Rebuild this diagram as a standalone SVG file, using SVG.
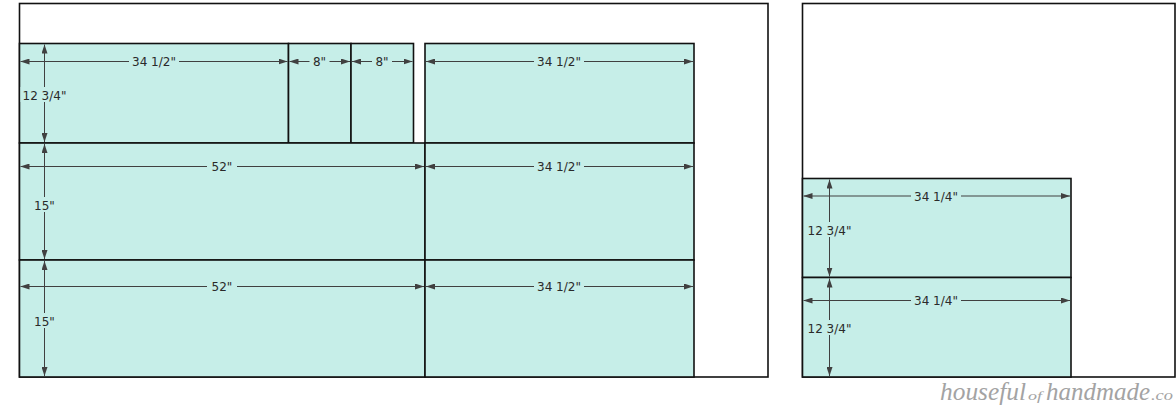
<svg xmlns="http://www.w3.org/2000/svg" width="1176" height="415" viewBox="0 0 1176 415">
<style>
.panel{fill:#fff;stroke:#111;stroke-width:1.6}
.piece{fill:#c6eee8;stroke:#111;stroke-width:1.6}
.dim{stroke:#404040;stroke-width:1;fill:none;marker-start:url(#ah);marker-end:url(#ah)}
.bg{fill:#c6eee8}
.lbl{font-family:"DejaVu Sans",Verdana,sans-serif;font-size:12px;fill:#2a2a2a;text-anchor:middle}
.wm{font-family:"Liberation Serif",serif;font-style:italic;fill:#a3a3a3}
</style>
<defs>
<marker id="ah" viewBox="0 0 9 6" refX="9" refY="3" markerWidth="9" markerHeight="6" markerUnits="userSpaceOnUse" orient="auto-start-reverse">
<path d="M0,0 L9,3 L0,6 z" fill="#404040"/>
</marker>
</defs>
<g id="sheet-left"><rect class="panel" x="19.5" y="3.5" width="748.5" height="373.5"/></g>
<g id="sheet-right"><rect class="panel" x="802.5" y="3.5" width="372.5" height="373.5"/></g>
<g id="piece-top-1"><rect class="piece" x="19.5" y="43.5" width="269" height="99.5"/></g>
<g id="piece-top-2"><rect class="piece" x="288.5" y="43.5" width="62.5" height="99.5"/></g>
<g id="piece-top-3"><rect class="piece" x="351" y="43.5" width="62.5" height="99.5"/></g>
<g id="piece-top-4"><rect class="piece" x="425" y="43.5" width="269" height="99.5"/></g>
<g id="piece-mid-1"><rect class="piece" x="19.5" y="143" width="405.5" height="117"/></g>
<g id="piece-mid-2"><rect class="piece" x="425" y="143" width="269" height="117"/></g>
<g id="piece-bot-1"><rect class="piece" x="19.5" y="260" width="405.5" height="117"/></g>
<g id="piece-bot-2"><rect class="piece" x="425" y="260" width="269" height="117"/></g>
<g id="piece-right-1"><rect class="piece" x="802.5" y="178.5" width="268.5" height="99"/></g>
<g id="piece-right-2"><rect class="piece" x="802.5" y="277.5" width="268.5" height="99.5"/></g>
<g id="connectors">
<line class="dim" x1="20.5" y1="61.5" x2="287.5" y2="61.5"/>
<line class="dim" x1="289.5" y1="61.5" x2="350" y2="61.5"/>
<line class="dim" x1="352" y1="61.5" x2="412.5" y2="61.5"/>
<line class="dim" x1="426" y1="61.5" x2="693" y2="61.5"/>
<line class="dim" x1="44.5" y1="44.5" x2="44.5" y2="142"/>
<line class="dim" x1="20.5" y1="166.5" x2="424" y2="166.5"/>
<line class="dim" x1="426" y1="166.5" x2="693" y2="166.5"/>
<line class="dim" x1="44.5" y1="144" x2="44.5" y2="259"/>
<line class="dim" x1="20.5" y1="286.5" x2="424" y2="286.5"/>
<line class="dim" x1="426" y1="286.5" x2="693" y2="286.5"/>
<line class="dim" x1="44.5" y1="261" x2="44.5" y2="376"/>
<line class="dim" x1="803.5" y1="196" x2="1070" y2="196"/>
<line class="dim" x1="803.5" y1="300.5" x2="1070" y2="300.5"/>
<line class="dim" x1="829.5" y1="179.5" x2="829.5" y2="276.5"/>
<line class="dim" x1="829.5" y1="278.5" x2="829.5" y2="376"/>
</g>
<g id="labels">
<rect class="bg" x="129" y="55" width="50" height="13"/><text class="lbl" x="154" y="66">34 1/2"</text>
<rect class="bg" x="309.5" y="55" width="20" height="13"/><text class="lbl" x="319.5" y="66">8"</text>
<rect class="bg" x="372" y="55" width="20" height="13"/><text class="lbl" x="382" y="66">8"</text>
<rect class="bg" x="534" y="55" width="50" height="13"/><text class="lbl" x="559" y="66">34 1/2"</text>
<rect class="bg" x="20.5" y="87" width="48" height="15"/><text class="lbl" x="44.5" y="99.5">12 3/4"</text>
<rect class="bg" x="207" y="160" width="30" height="13"/><text class="lbl" x="222" y="171">52"</text>
<rect class="bg" x="534" y="160" width="50" height="13"/><text class="lbl" x="559" y="171">34 1/2"</text>
<rect class="bg" x="31" y="197" width="27" height="15"/><text class="lbl" x="44.5" y="209.5">15"</text>
<rect class="bg" x="207" y="280" width="30" height="13"/><text class="lbl" x="222" y="291">52"</text>
<rect class="bg" x="534" y="280" width="50" height="13"/><text class="lbl" x="559" y="291">34 1/2"</text>
<rect class="bg" x="31" y="313" width="27" height="15"/><text class="lbl" x="44.5" y="325.5">15"</text>
<rect class="bg" x="911" y="189.5" width="50" height="13"/><text class="lbl" x="936" y="200.5">34 1/4"</text>
<rect class="bg" x="911" y="294" width="50" height="13"/><text class="lbl" x="936" y="305">34 1/4"</text>
<rect class="bg" x="805.5" y="222" width="48" height="15"/><text class="lbl" x="829.5" y="234.5">12 3/4"</text>
<rect class="bg" x="805.5" y="320" width="48" height="15"/><text class="lbl" x="829.5" y="332.5">12 3/4"</text>
</g>
<text class="wm" y="400"><tspan x="940" font-size="25" textLength="86" lengthAdjust="spacingAndGlyphs">houseful</tspan><tspan x="1028" font-size="13" textLength="14" lengthAdjust="spacingAndGlyphs">of</tspan><tspan x="1046" font-size="25" textLength="104" lengthAdjust="spacingAndGlyphs">handmade</tspan><tspan x="1151" font-size="15" textLength="22" lengthAdjust="spacingAndGlyphs">.co</tspan></text>
</svg>
